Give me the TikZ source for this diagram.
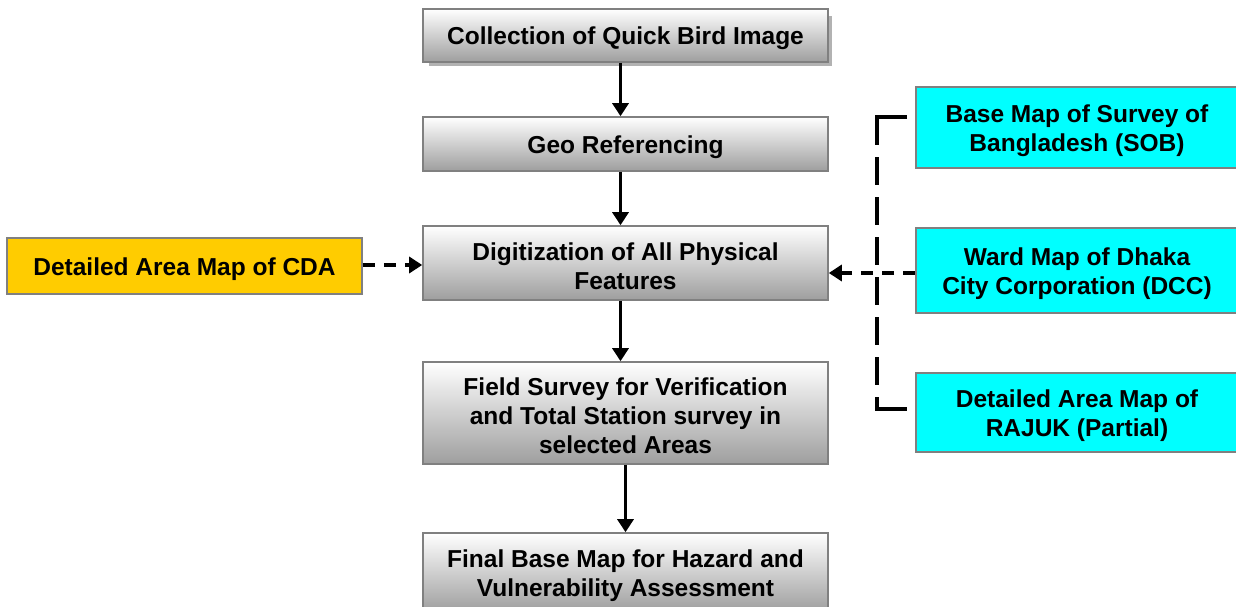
\documentclass[tikz,border=0pt]{standalone}
\usepackage{fontspec}
\setmainfont{Liberation Sans}
\usetikzlibrary{arrows.meta}
\definecolor{cyanbox}{HTML}{00FFFF}
\definecolor{yellowbox}{HTML}{FFCC00}
\definecolor{boxline}{HTML}{808080}
\tikzset{
  txt/.style={font=\bfseries\fontsize{24.5}{29}\selectfont, align=center, inner sep=0pt, yshift=-3pt},
  boxbase/.style={draw=boxline, line width=1.6pt, inner sep=0pt},
  graybox/.style={boxbase, top color=white, bottom color=black!38, minimum width=405pt},
  cyanbx/.style={boxbase, fill=cyanbox, minimum width=322pt},
  yelbx/.style={boxbase, fill=yellowbox, minimum width=355pt, minimum height=56pt},
  flow/.style={line width=3.5pt, -{Triangle[length=13pt,width=16pt]}},
  dflow/.style={line width=3.5pt, dash pattern=on 12pt off 9pt, -{Triangle[length=13pt,width=16pt]}},
  brk/.style={line width=3.5pt},
  bracket/.style={line width=3.5pt, dash pattern=on 28pt off 12pt},
}
\begin{document}
\begin{tikzpicture}[x=1pt,y=-1pt]
\useasboundingbox (0,0) rectangle (1236,607);
% shadow of first box
\fill[black!30] (429,16) rectangle (832,66);
\node[graybox, minimum height=53pt, label={[txt]center:Collection of Quick Bird Image}] (b1) at (625.5,35.5) {};
\node[graybox, minimum height=54pt, label={[txt]center:Geo Referencing}] (b2) at (625.5,144) {};
\node[graybox, minimum height=74pt, label={[txt]center:Digitization of All Physical\\Features}] (b3) at (625.5,263) {};
\node[graybox, minimum height=102pt, label={[txt]center:Field Survey for Verification\\and Total Station survey in\\selected Areas}] (b4) at (625.5,413) {};
\node[graybox, minimum height=79pt, label={[txt]center:Final Base Map for Hazard and\\Vulnerability Assessment}] (b5) at (625.5,572.5) {};

\node[yelbx, label={[txt]center:Detailed Area Map of CDA}] (y) at (184.5,266) {};

\node[cyanbx, minimum height=81pt, label={[txt]center:Base Map of Survey of\\Bangladesh (SOB)}] (cA) at (1077,127.5) {};
\node[cyanbx, minimum height=85pt, label={[txt]center:Ward Map of Dhaka\\City Corporation (DCC)}] (cB) at (1077,270.5) {};
\node[cyanbx, minimum height=79pt, label={[txt]center:Detailed Area Map of\\RAJUK (Partial)}] (cC) at (1077,412.5) {};

% main flow
\draw[flow] ([xshift=-5pt]b1.south) -- ([xshift=-5pt]b2.north);
\draw[flow] ([xshift=-5pt]b2.south) -- ([xshift=-5pt]b3.north);
\draw[flow] ([xshift=-5pt]b3.south) -- ([xshift=-5pt]b4.north);
\draw[flow] (b4.south) -- (b5.north);

% side inputs
\draw[dflow] ([yshift=1pt]y.east) -- ([yshift=1pt]y.east -| b3.west);
\draw[dflow] ([yshift=-2.5pt]cB.west) -- ([yshift=-2.5pt]cB.west -| b3.east);

% bracket
\coordinate (bt) at (907,117);
\coordinate (bb) at (907,409);
\coordinate (tc) at (877,117);
\coordinate (bc) at (877,409);
\draw[brk] (bt) -- ([xshift=-1.75pt]tc);
\draw[bracket] (tc) -- (bc);
\draw[brk] ([xshift=-1.75pt]bc) -- (bb);
\end{tikzpicture}
\end{document}
